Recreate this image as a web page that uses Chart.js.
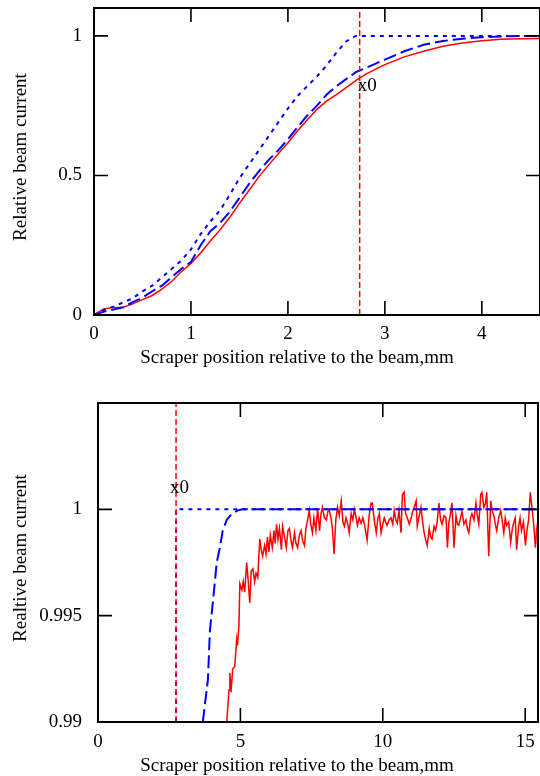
<!DOCTYPE html>
<html>
<head>
<meta charset="utf-8">
<title>Scraper scan</title>
<script src="https://cdn.jsdelivr.net/npm/chart.js@4.4.0/dist/chart.umd.min.js"></script>
<style>
    html, body { margin: 0; padding: 0; background: #fff; }
    .box { position: absolute; left: 0; width: 540px; }
    #top-box { top: 0; height: 380px; }
    #bottom-box { top: 390px; height: 386px; }
</style>
</head>
<body>
<div class="box" id="top-box"><canvas id="topChart"></canvas></div>
<div class="box" id="bottom-box"><canvas id="bottomChart"></canvas></div>
<script>
// Scraper position of the beam edge
const x0 = 2.74;

// Top chart: full scan
const topX = [0, 0.1, 0.2, 0.3, 0.4, 0.5, 0.6, 0.7, 0.8, 0.9, 1.0, 1.1, 1.2, 1.3, 1.4, 1.5, 1.6, 1.7, 1.8, 1.9,
    2.0, 2.1, 2.2, 2.3, 2.4, 2.5, 2.6, 2.7, 2.8, 2.9, 3.0, 3.2, 3.4, 3.6, 3.8, 4.0, 4.2, 4.4, 4.6];
const topRed = [0, 0.022, 0.027, 0.028, 0.04, 0.055, 0.07, 0.093, 0.12, 0.155, 0.185, 0.222, 0.265, 0.305, 0.35,
    0.40, 0.447, 0.495, 0.537, 0.578, 0.617, 0.66, 0.70, 0.737, 0.767, 0.79, 0.815, 0.84, 0.862, 0.88, 0.897,
    0.925, 0.945, 0.963, 0.975, 0.983, 0.988, 0.99, 0.991];
const topDashed = [0, 0.012, 0.02, 0.028, 0.046, 0.062, 0.085, 0.105, 0.135, 0.165, 0.19, 0.25, 0.30, 0.33, 0.37,
    0.42, 0.47, 0.515, 0.555, 0.59, 0.63, 0.673, 0.715, 0.75, 0.79, 0.82, 0.845, 0.87, 0.885, 0.9, 0.915,
    0.945, 0.968, 0.982, 0.99, 0.995, 0.998, 1.0, 1.0];
const topDottedX = [0, 0.1, 0.2, 0.3, 0.4, 0.5, 0.6, 0.7, 0.8, 0.9, 1.0, 1.1, 1.2, 1.3, 1.4, 1.5, 1.6, 1.7, 1.8,
    1.9, 2.0, 2.1, 2.2, 2.3, 2.4, 2.5, 2.6, 2.7, 4.6];
const topDotted = [0, 0.018, 0.03, 0.045, 0.06, 0.085, 0.105, 0.135, 0.165, 0.195, 0.235, 0.29, 0.335, 0.375,
    0.43, 0.49, 0.54, 0.59, 0.64, 0.69, 0.74, 0.785, 0.82, 0.855, 0.895, 0.94, 0.98, 1.0, 1.0];
const topXTicks = [0, 1, 2, 3, 4];
const topYTicks = [0, 0.5, 1];

// Bottom chart: zoom near 1
const bottomRedX = [4.52, 4.60, 4.63, 4.67, 4.73, 4.80, 4.87, 4.90, 4.95, 4.98, 5.05, 5.10, 5.15, 5.22, 5.27, 5.33,
    5.38, 5.44, 5.50, 5.55, 5.61, 5.68, 5.73, 5.78, 5.85, 5.90, 5.95, 6.00, 6.05, 6.12, 6.18, 6.22, 6.27, 6.32,
    6.37, 6.44, 6.48, 6.55, 6.61, 6.67, 6.72, 6.78, 6.83, 6.90, 6.95, 7.01, 7.07, 7.13, 7.19, 7.25, 7.30, 7.36,
    7.42, 7.47, 7.53, 7.58, 7.65, 7.71, 7.78, 7.83, 7.88, 7.95, 8.02, 8.07, 8.12, 8.18, 8.23, 8.29, 8.35, 8.41,
    8.47, 8.54, 8.60, 8.65, 8.71, 8.77, 8.82, 8.89, 8.95, 9.00, 9.05, 9.11, 9.17, 9.24, 9.30, 9.35, 9.45, 9.52,
    9.59, 9.63, 9.70, 9.77, 9.83, 9.88, 9.94, 10.00, 10.05, 10.10, 10.15, 10.22, 10.29, 10.35, 10.40, 10.46,
    10.51, 10.57, 10.64, 10.69, 10.75, 10.80, 10.86, 10.93, 11.00, 11.05, 11.10, 11.17, 11.21, 11.28, 11.34,
    11.40, 11.45, 11.50, 11.56, 11.63, 11.68, 11.73, 11.80, 11.85, 11.91, 11.97, 12.03, 12.08, 12.15, 12.22,
    12.27, 12.32, 12.38, 12.43, 12.50, 12.57, 12.62, 12.67, 12.73, 12.78, 12.85, 12.92, 12.97, 13.02, 13.08,
    13.13, 13.20, 13.27, 13.32, 13.37, 13.44, 13.48, 13.55, 13.61, 13.65, 13.72, 13.79, 13.85, 13.90, 13.95,
    14.00, 14.07, 14.14, 14.20, 14.25, 14.30, 14.35, 14.42, 14.49, 14.55, 14.59, 14.65, 14.70, 14.77, 14.82,
    14.87, 14.94, 15.01, 15.07, 15.12, 15.18, 15.22, 15.30, 15.36, 15.40, 15.45];
const bottomRed = [0.9900, 0.9915, 0.9923, 0.9914, 0.9925, 0.9926, 0.9939, 0.9936, 0.9946, 0.9965, 0.9962,
    0.9966, 0.9961, 0.9975, 0.9967, 0.9956, 0.9971, 0.9972, 0.9966, 0.9970, 0.9968, 0.9986, 0.9981, 0.9978,
    0.9983, 0.9979, 0.9987, 0.9980, 0.9988, 0.9982, 0.9990, 0.9984, 0.9993, 0.9986, 0.9991, 0.9981, 0.9992,
    0.9987, 0.9982, 0.9990, 0.9991, 0.9985, 0.9982, 0.9989, 0.9984, 0.9982, 0.9988, 0.9990, 0.9985, 0.9983,
    0.9991, 0.9995, 0.99995, 0.9993, 0.9989, 0.9996, 0.9990, 1.00005, 0.9990, 0.9998, 1.0001, 0.9996, 0.9995,
    0.9999, 0.99995, 0.9996, 0.9991, 0.9979, 0.9995, 1.0001, 0.9997, 1.0004, 0.9994, 0.9992, 0.9996, 0.9993,
    0.9989, 0.9998, 0.9995, 1.0000, 0.9997, 0.99925, 0.9996, 0.99934, 0.9996, 0.99934, 0.99855, 0.9997, 1.0003,
    1.0003, 0.9995, 0.9989, 0.9996, 0.9998, 0.9989, 0.9993, 0.9996, 0.9994, 0.99925, 0.9995, 0.9996, 0.9993,
    0.99995, 0.9995, 0.99934, 0.99995, 0.9989, 1.0007, 1.0008, 0.9998, 0.9996, 0.9993, 0.9996, 0.9999, 1.0001,
    1.0004, 0.9992, 0.9997, 1.0001, 0.9994, 0.9989, 0.9986, 0.9983, 0.9991, 0.9987, 0.9986, 0.9992, 0.9990,
    0.9994, 1.0003, 0.9995, 0.9993, 0.9997, 0.9996, 0.9982, 0.9994, 0.9998, 1.0003, 0.9982, 0.9997, 0.9993,
    0.99925, 0.9996, 0.9999, 0.9993, 0.9995, 0.9991, 0.9989, 0.9996, 0.9998, 0.9995, 1.0003, 0.9997, 0.9993,
    1.0007, 1.0008, 1.0001, 1.0003, 1.0008, 0.9978, 1.0004, 0.9999, 0.9997, 0.9993, 0.9990, 0.9996, 0.99995,
    0.9994, 0.9989, 0.9996, 0.99925, 0.9994, 0.99845, 0.9991, 0.99934, 0.9996, 0.9981, 0.9992, 0.9996, 0.9990,
    0.9994, 0.9983, 0.9991, 0.9995, 1.0008, 1.0003, 0.9993, 0.9982, 0.9990, 0.9995];
const bottomDashedX = [3.68, 3.86, 3.93, 4.03, 4.17, 4.28, 4.38, 4.52, 4.70, 4.91, 5.08, 15.45];
const bottomDashed = [0.99, 0.992, 0.9943, 0.9956, 0.9975, 0.9982, 0.999, 0.9995, 0.9998, 0.99995, 1.0, 1.0];
const bottomDottedX = [x0, x0, 15.45];
const bottomDotted = [0.99, 1.0, 1.0];
const bottomXTicks = [0, 5, 10, 15];
const bottomYTicks = [0.99, 0.995, 1];

const xTitle = 'Scraper position relative to the beam,mm';

// Colors
const colors = {
    red: '#ff0000',
    blue: '#0000ff',
    ink: '#000000'
};

const serif = 'Liberation Serif, Times New Roman, serif';

function toPoints(xs, ys) {
    return xs.map((x, i) => ({ x: x, y: ys[i] }));
}

// Frame with inward tick marks on all four sides, axis titles and the x0 label
const framePlugin = {
    id: 'frame',
    afterDatasetsDraw(chart, args, opts) {
        const { ctx, chartArea: a, scales } = chart;
        const len = 14;
        ctx.save();
        ctx.strokeStyle = colors.ink;
        ctx.lineWidth = 2;
        ctx.strokeRect(a.left, a.top, a.right - a.left, a.bottom - a.top);
        ctx.lineWidth = 1.6;
        ctx.beginPath();
        scales.x.ticks.forEach(t => {
            const px = scales.x.getPixelForValue(t.value);
            ctx.moveTo(px, a.bottom); ctx.lineTo(px, a.bottom - len);
            ctx.moveTo(px, a.top); ctx.lineTo(px, a.top + len);
        });
        scales.y.ticks.forEach(t => {
            const py = scales.y.getPixelForValue(t.value);
            ctx.moveTo(a.left, py); ctx.lineTo(a.left + len, py);
            ctx.moveTo(a.right, py); ctx.lineTo(a.right - len, py);
        });
        ctx.stroke();

        ctx.fillStyle = colors.ink;
        ctx.font = '19px ' + serif;
        ctx.textBaseline = 'middle';

        // x0 label
        ctx.textAlign = 'left';
        ctx.fillText('x0', scales.x.getPixelForValue(x0) + opts.dx, scales.y.getPixelForValue(opts.labelY));

        // axis titles
        ctx.textAlign = 'center';
        ctx.fillText(xTitle, opts.xTitleX, opts.xTitleY);
        ctx.translate(opts.yTitleX, opts.yTitleY);
        ctx.rotate(-Math.PI / 2);
        ctx.fillText(opts.yTitle, 0, 0);
        ctx.restore();
    }
};

function lineSet(points, color, width, dash) {
    return {
        data: points,
        borderColor: color,
        borderWidth: width,
        borderDash: dash,
        pointRadius: 0,
        tension: 0,
        fill: false
    };
}

function axes(xMin, xMax, xTicks, yMin, yMax, yTicks, sizes) {
    return {
        x: {
            type: 'linear',
            min: xMin,
            max: xMax,
            grid: { display: false, drawTicks: false },
            border: { display: false },
            afterBuildTicks: s => { s.ticks = xTicks.map(v => ({ value: v })); },
            afterFit: s => {
                s.height = sizes.xHeight;
                s.paddingLeft = 0;
                s.paddingRight = 0;
            },
            ticks: {
                padding: sizes.xPad,
                maxRotation: 0,
                font: { family: serif, size: 19 },
                callback: v => String(v)
            }
        },
        y: {
            type: 'linear',
            min: yMin,
            max: yMax,
            grid: { display: false, drawTicks: false },
            border: { display: false },
            afterBuildTicks: s => { s.ticks = yTicks.map(v => ({ value: v })); },
            afterFit: s => {
                s.width = sizes.yWidth;
                s.paddingTop = 0;
                s.paddingBottom = 0;
            },
            ticks: {
                padding: sizes.yPad,
                font: { family: serif, size: 19 },
                callback: v => String(v)
            }
        }
    };
}

function createTopChart() {
    const ctx = document.getElementById('topChart').getContext('2d');
    new Chart(ctx, {
        type: 'line',
        data: {
            datasets: [
                lineSet([{ x: x0, y: 0 }, { x: x0, y: 1.1 }], colors.red, 1.5, [6, 3]),
                lineSet(toPoints(topDottedX, topDotted), colors.blue, 2, [4, 5]),
                lineSet(toPoints(topX, topDashed), colors.blue, 2, [13, 5]),
                lineSet(toPoints(topX, topRed), colors.red, 1.5, [])
            ]
        },
        options: {
            responsive: true,
            maintainAspectRatio: false,
            animation: false,
            layout: { padding: { top: 8, right: 0, left: 0, bottom: 0 } },
            plugins: {
                legend: { display: false },
                tooltip: { enabled: false },
                frame: {
                    dx: -2, labelY: 0.822,
                    xTitleX: 297, xTitleY: 358,
                    yTitle: 'Relative beam current', yTitleX: 21, yTitleY: 157
                }
            },
            scales: axes(0, 4.6, topXTicks, 0, 1.1, topYTicks,
                { xHeight: 65, xPad: 8, yWidth: 94, yPad: 12 })
        },
        plugins: [framePlugin]
    });
}

function createBottomChart() {
    const ctx = document.getElementById('bottomChart').getContext('2d');
    new Chart(ctx, {
        type: 'line',
        data: {
            datasets: [
                lineSet([{ x: x0, y: 0.99 }, { x: x0, y: 1.005 }], colors.red, 1.5, [6, 3]),
                lineSet(toPoints(bottomDottedX, bottomDotted), colors.blue, 2, [4, 5]),
                lineSet(toPoints(bottomDashedX, bottomDashed), colors.blue, 2, [13, 5]),
                lineSet(toPoints(bottomRedX, bottomRed), colors.red, 1.5, [])
            ]
        },
        options: {
            responsive: true,
            maintainAspectRatio: false,
            animation: false,
            layout: { padding: { top: 13, right: 2, left: 0, bottom: 0 } },
            plugins: {
                legend: { display: false },
                tooltip: { enabled: false },
                frame: {
                    dx: -6, labelY: 1.001,
                    xTitleX: 297, xTitleY: 376,
                    yTitle: 'Realtive beam current', yTitleX: 21, yTitleY: 168
                }
            },
            scales: axes(0, 15.45, bottomXTicks, 0.99, 1.005, bottomYTicks,
                { xHeight: 54, xPad: 9, yWidth: 98, yPad: 16 })
        },
        plugins: [framePlugin]
    });
}

Chart.defaults.color = colors.ink;
createTopChart();
createBottomChart();
</script>
</body>
</html>
